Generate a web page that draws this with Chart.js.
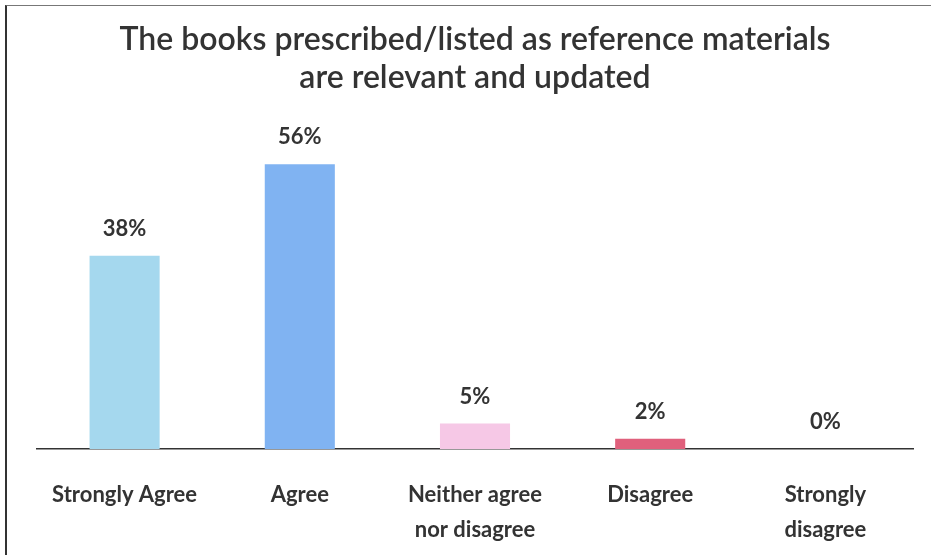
<!DOCTYPE html>
<html>
<head>
<meta charset="utf-8">
<script src="https://cdn.jsdelivr.net/npm/chart.js@4/dist/chart.umd.min.js"></script>
<style>
    html, body { margin: 0; padding: 0; background: #fff; }
    .frame {
        position: relative;
        width: 935px;
        height: 559px;
    }
    .frame::before {
        content: '';
        position: absolute;
        left: 5px; top: 5px; right: 4px; bottom: 4px;
        border-left: 2px solid #333;
        border-top: 1px solid #777;
        pointer-events: none;
    }
</style>
</head>
<body>
<div class="frame">
    <canvas id="surveyChart" width="935" height="559"></canvas>
</div>
<script>
// Chart data
const categories = [['Strongly Agree'], ['Agree'], ['Neither agree', 'nor disagree'], ['Disagree'], ['Strongly', 'disagree']];
const percentages = [38, 56, 5, 2, 0];
const barColors = ['#a5d8ee', '#80b3f2', '#f6c8e6', '#e0607c', '#b0b0b0'];
const titleLines = ['The books prescribed/listed as reference materials', 'are relevant and updated'];

const fontFamily = "Lato, 'Open Sans', 'Noto Sans', sans-serif";
const textColor = '#333333';

// Draws the "38%" style labels over each bar
const valueLabels = {
    id: 'valueLabels',
    afterDatasetsDraw(chart) {
        const ctx = chart.ctx;
        const meta = chart.getDatasetMeta(0);
        ctx.save();
        ctx.font = 'bold 22px ' + fontFamily;
        ctx.fillStyle = textColor;
        ctx.textAlign = 'center';
        ctx.textBaseline = 'middle';
        meta.data.forEach((bar, i) => {
            ctx.fillText(percentages[i] + '%', bar.x, bar.y - 27);
        });
        ctx.restore();
    }
};

function initializeSurveyChart() {
    const ctx = document.getElementById('surveyChart').getContext('2d');

    new Chart(ctx, {
        type: 'bar',
        data: {
            labels: categories,
            datasets: [{
                data: percentages,
                backgroundColor: barColors,
                borderWidth: 0,
                barPercentage: 0.4,
                categoryPercentage: 1.0
            }]
        },
        options: {
            responsive: false,
            animation: false,
            layout: {
                padding: { left: 37, right: 22, top: 0, bottom: 0 }
            },
            plugins: {
                legend: { display: false },
                tooltip: { enabled: false },
                title: {
                    display: true,
                    text: titleLines,
                    color: textColor,
                    font: { family: fontFamily, size: 32, weight: '600', lineHeight: 1.2 },
                    padding: { top: 20, bottom: 47 }
                }
            },
            scales: {
                x: {
                    grid: { display: false },
                    border: { display: true, color: '#333', width: 1.5 },
                    ticks: {
                        color: textColor,
                        padding: 20,
                        maxRotation: 0,
                        autoSkip: false,
                        font: { family: fontFamily, size: 22, weight: 'bold', lineHeight: 1.6 }
                    },
                    afterFit: (scale) => { scale.height = 110; }
                },
                y: {
                    display: false,
                    min: 0,
                    max: 60
                }
            }
        },
        plugins: [valueLabels]
    });
}

document.addEventListener('DOMContentLoaded', initializeSurveyChart);
</script>
</body>
</html>
